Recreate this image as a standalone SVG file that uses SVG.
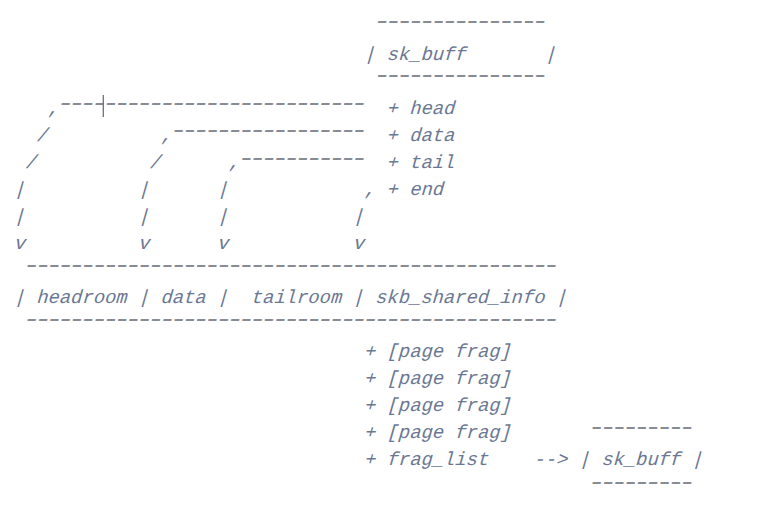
<svg xmlns="http://www.w3.org/2000/svg" width="758" height="518" viewBox="0 0 758 518">
<style>
text{font-family:"Liberation Mono","DejaVu Sans Mono",monospace;font-size:18.83px;fill:#6b7893;white-space:pre}
text.d{fill:#6b717c;font-size:30px;letter-spacing:-6.7px}
.mark{stroke:#6b717c;stroke-width:1.3}
</style>
<rect width="758" height="518" fill="#ffffff"/>
<g id="sk_buff">
<text class="d" xml:space="preserve" transform="translate(371.65,27.3) skewX(-16) scale(1,0.62)">---------------</text>
<text xml:space="preserve" transform="translate(363.7,60) skewX(-16)">| sk_buff       |</text>
<text class="d" xml:space="preserve" transform="translate(371.65,81.3) skewX(-16) scale(1,0.62)">---------------</text>
</g>
<g id="sk_buff_fields">
<text xml:space="preserve" transform="translate(386.3,114) skewX(-16)">+ head</text>
<text xml:space="preserve" transform="translate(386.3,141) skewX(-16)">+ data</text>
<text xml:space="preserve" transform="translate(386.3,168) skewX(-16)">+ tail</text>
<text xml:space="preserve" transform="translate(386.3,195) skewX(-16)">+ end</text>
</g>
<g id="linear_buffer">
<text class="d" xml:space="preserve" transform="translate(21.35,271.3) skewX(-16) scale(1,0.62)">-----------------------------------------------</text>
<text xml:space="preserve" transform="translate(13.4,303) skewX(-16)">| headroom | data |  tailroom | skb_shared_info |</text>
<text class="d" xml:space="preserve" transform="translate(21.35,325.3) skewX(-16) scale(1,0.62)">-----------------------------------------------</text>
</g>
<g id="frags">
<text xml:space="preserve" transform="translate(363.7,357) skewX(-16)">+ [page frag]</text>
<text xml:space="preserve" transform="translate(363.7,384) skewX(-16)">+ [page frag]</text>
<text xml:space="preserve" transform="translate(363.7,411) skewX(-16)">+ [page frag]</text>
<text xml:space="preserve" transform="translate(363.7,438) skewX(-16)">+ [page frag]</text>
<text xml:space="preserve" transform="translate(363.7,465) skewX(-16)">+ frag_list</text>
</g>
<g id="frag_list_sk_buff">
<text class="d" xml:space="preserve" transform="translate(586.35,433.3) skewX(-16) scale(1,0.62)">---------</text>
<text xml:space="preserve" transform="translate(578.4,465) skewX(-16)">| sk_buff |</text>
<text class="d" xml:space="preserve" transform="translate(586.35,488.3) skewX(-16) scale(1,0.62)">---------</text>
</g>
<g id="connectors">
<text xml:space="preserve" transform="translate(47.3,114) skewX(-16)">,</text>
<text class="d" xml:space="preserve" transform="translate(55.25,109.3) skewX(-16) scale(1,0.62)">---------------------------</text>
<line class="mark" x1="103.3" y1="95" x2="103.3" y2="117"/>
<text xml:space="preserve" transform="translate(36,141) skewX(-16)">/</text>
<text xml:space="preserve" transform="translate(160.3,141) skewX(-16)">,</text>
<text class="d" xml:space="preserve" transform="translate(168.25,136.3) skewX(-16) scale(1,0.62)">-----------------</text>
<text xml:space="preserve" transform="translate(24.7,168) skewX(-16)">/</text>
<text xml:space="preserve" transform="translate(149,168) skewX(-16)">/</text>
<text xml:space="preserve" transform="translate(228.1,168) skewX(-16)">,</text>
<text class="d" xml:space="preserve" transform="translate(236.05,164.3) skewX(-16) scale(1,0.62)">-----------</text>
<text xml:space="preserve" transform="translate(13.4,195) skewX(-16)">|</text>
<text xml:space="preserve" transform="translate(137.7,195) skewX(-16)">|</text>
<text xml:space="preserve" transform="translate(216.8,195) skewX(-16)">|</text>
<text xml:space="preserve" transform="translate(363.7,195) skewX(-16)">,</text>
<text xml:space="preserve" transform="translate(13.4,222) skewX(-16)">|</text>
<text xml:space="preserve" transform="translate(137.7,222) skewX(-16)">|</text>
<text xml:space="preserve" transform="translate(216.8,222) skewX(-16)">|</text>
<text xml:space="preserve" transform="translate(352.4,222) skewX(-16)">|</text>
<text xml:space="preserve" transform="translate(13.4,249) skewX(-16)">v</text>
<text xml:space="preserve" transform="translate(137.7,249) skewX(-16)">v</text>
<text xml:space="preserve" transform="translate(216.8,249) skewX(-16)">v</text>
<text xml:space="preserve" transform="translate(352.4,249) skewX(-16)">v</text>
<text xml:space="preserve" transform="translate(533.2,465) skewX(-16)">--&gt;</text>
</g>
</svg>
